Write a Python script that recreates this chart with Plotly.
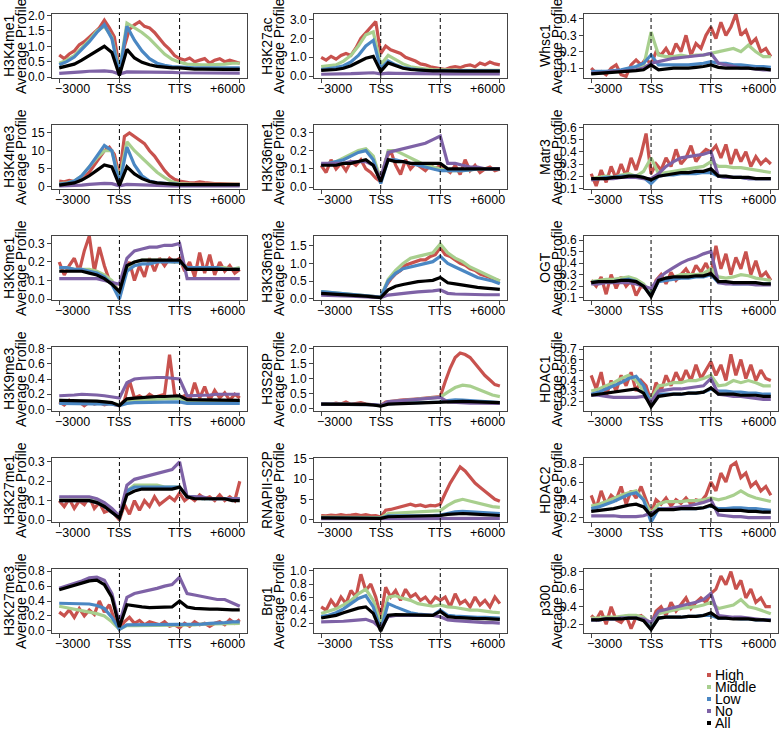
import numpy as np
import plotly.graph_objects as go

# x positions run -3000 .. TSS .. TTS .. +6000 (gene body scaled), ticks at thirds
X_TICKS = [0, 1, 2, 3]
X_LABELS = ["\u22123000", "TSS", "TTS", "+6000"]
X_LABEL_POS = [0.22, 1, 2, 2.8]   # end labels sit slightly inside the end ticks

GROUPS = ["High", "Middle", "Low", "No", "All"]
COLORS = {"High": "#C8524E", "Middle": "#A8CF8E", "Low": "#4A87C3",
          "No": "#7E62A6", "All": "#000000"}

# ---- H3K4me1 ----
k4me1_high = [0.72, 0.6, 0.75, 0.85, 1.05, 1.15, 1.3, 1.45, 1.6, 1.85, 1.6, 1.3,
              0.25, 1.0, 1.55, 1.7, 1.8, 1.65, 1.6, 1.45, 1.25, 1.05, 0.9, 0.7,
              0.6, 0.55, 0.62, 0.5, 0.55, 0.6, 0.45, 0.55, 0.6, 0.5, 0.55, 0.5, 0.45]
k4me1_mid = [0.45, 0.55, 0.7, 0.95, 1.2, 1.5, 1.65, 1.3,
             0.2, 1.75, 1.6, 1.45, 1.25, 1.0, 0.75, 0.58,
             0.48, 0.42, 0.4, 0.4, 0.4, 0.4, 0.42, 0.45, 0.45]
k4me1_low = [0.4, 0.5, 0.65, 0.9, 1.15, 1.45, 1.7, 1.25,
             0.1, 1.65, 1.2, 0.85, 0.6, 0.45, 0.38, 0.34,
             0.32, 0.3, 0.3, 0.3, 0.3, 0.3, 0.3, 0.3, 0.3]
k4me1_no = [0.12, 0.13, 0.15, 0.17, 0.19, 0.2, 0.2, 0.18,
            0.1, 0.17, 0.17, 0.16, 0.16, 0.16, 0.15, 0.15,
            0.14, 0.14, 0.14, 0.14, 0.13, 0.13, 0.13, 0.13, 0.13]
k4me1_all = [0.3, 0.35, 0.42, 0.55, 0.7, 0.85, 1.0, 0.8,
             0.05, 0.9, 0.62, 0.48, 0.4, 0.35, 0.32, 0.3,
             0.3, 0.27, 0.26, 0.26, 0.25, 0.25, 0.25, 0.25, 0.25]

# ---- H3K27ac ----
k27ac_high = [1.0, 0.85, 1.05, 0.9, 1.1, 1.2, 1.1, 1.5, 2.0, 2.3, 2.6, 2.9,
              1.2, 1.6, 1.4, 1.3, 1.2, 1.0, 0.9, 0.8, 0.65, 0.6, 0.5, 0.45,
              0.4, 0.35, 0.45, 0.5, 0.45, 0.55, 0.6, 0.5, 0.7, 0.6, 0.75, 0.65, 0.6]
k27ac_mid = [0.5, 0.55, 0.6, 0.8, 1.1, 1.6, 2.2, 2.35,
             0.6, 1.1, 0.85, 0.65, 0.5, 0.42, 0.38, 0.35,
             0.33, 0.3, 0.3, 0.3, 0.3, 0.3, 0.3, 0.3, 0.3]
k27ac_low = [0.35, 0.38, 0.45, 0.55, 0.75, 1.1, 1.6, 1.9,
             0.4, 0.8, 0.6, 0.45, 0.38, 0.33, 0.3, 0.3,
             0.3, 0.28, 0.28, 0.28, 0.28, 0.28, 0.28, 0.28, 0.28]
k27ac_no = [0.1, 0.1, 0.11, 0.12, 0.13, 0.15, 0.17, 0.18,
            0.12, 0.16, 0.15, 0.14, 0.14, 0.13, 0.13, 0.12,
            0.12, 0.12, 0.12, 0.12, 0.12, 0.12, 0.12, 0.12, 0.12]
k27ac_all = [0.3, 0.32, 0.35, 0.42, 0.55, 0.75, 0.95, 1.05,
             0.25, 0.7, 0.55, 0.42, 0.35, 0.32, 0.3, 0.28,
             0.28, 0.26, 0.26, 0.26, 0.26, 0.26, 0.26, 0.26, 0.26]

# ---- Whsc1 ----
whsc1_high = [0.1, 0.07, 0.08, 0.06, 0.1, 0.12, 0.06, 0.05, 0.12, 0.15, 0.12, 0.16,
              0.12, 0.2, 0.18, 0.22, 0.17, 0.25, 0.2, 0.3, 0.18, 0.25, 0.22, 0.3,
              0.35, 0.28, 0.38, 0.3, 0.35, 0.43, 0.3, 0.33, 0.25, 0.28, 0.2, 0.22, 0.17]
whsc1_mid = [0.07, 0.07, 0.075, 0.08, 0.085, 0.09, 0.1, 0.11,
             0.32, 0.18, 0.17, 0.17, 0.18, 0.17, 0.18, 0.18,
             0.19, 0.2, 0.21, 0.22, 0.2, 0.24, 0.2, 0.17, 0.17]
whsc1_low = [0.08, 0.08, 0.08, 0.085, 0.09, 0.1, 0.11, 0.13,
             0.18, 0.12, 0.12, 0.12, 0.12, 0.12, 0.125, 0.13,
             0.14, 0.13, 0.13, 0.12, 0.12, 0.115, 0.11, 0.11, 0.105]
whsc1_no = [0.07, 0.07, 0.075, 0.08, 0.08, 0.085, 0.09, 0.1,
            0.13, 0.14, 0.15, 0.16, 0.165, 0.17, 0.175, 0.18,
            0.19, 0.13, 0.12, 0.11, 0.1, 0.1, 0.095, 0.09, 0.09]
whsc1_all = [0.065, 0.068, 0.07, 0.072, 0.075, 0.08, 0.085, 0.09,
             0.12, 0.09, 0.095, 0.1, 0.1, 0.1, 0.105, 0.11,
             0.12, 0.105, 0.1, 0.1, 0.1, 0.1, 0.095, 0.095, 0.09]

# ---- H3K4me3 ----
k4me3_high = [1.5, 1.3, 1.7, 1.4, 1.6, 2.5, 4, 6, 8, 10, 11, 9,
              3, 14, 15, 14, 13, 12, 10, 8.5, 6.5, 4.5, 3, 2,
              1.5, 1.2, 1.0, 1.0, 1.3, 1.1, 0.9, 0.8, 0.8, 0.7, 0.7, 0.7, 0.7]
k4me3_mid = [0.8, 1.0, 1.5, 3, 5.5, 8, 10, 10,
             2, 12.5, 10, 8, 6, 4, 2.5, 1.3,
             0.8, 0.6, 0.6, 0.6, 0.6, 0.6, 0.6, 0.6, 0.6]
k4me3_low = [0.7, 0.9, 1.5, 3, 5.5, 8.5, 11.5, 10,
             0.5, 11, 6, 3, 1.5, 1.0, 0.8, 0.6,
             0.6, 0.55, 0.55, 0.55, 0.55, 0.55, 0.55, 0.55, 0.55]
k4me3_no = [0.15, 0.2, 0.3, 0.4, 0.6, 0.8, 0.9, 0.8,
            0.2, 0.6, 0.5, 0.4, 0.3, 0.25, 0.2, 0.2,
            0.2, 0.2, 0.2, 0.2, 0.2, 0.2, 0.2, 0.2, 0.2]
k4me3_all = [0.4, 0.6, 1.0, 1.8, 3, 4.5, 6, 5.5,
             0.3, 5.5, 3.5, 2.2, 1.4, 1.0, 0.8, 0.6,
             0.55, 0.5, 0.5, 0.5, 0.5, 0.5, 0.5, 0.5, 0.5]

# ---- H3K36me1 ----
k36me1_high = [0.12, 0.08, 0.15, 0.1, 0.13, 0.09, 0.14, 0.12, 0.15, 0.1, 0.08, 0.05,
               0.03, 0.15, 0.2, 0.12, 0.07, 0.15, 0.1, 0.13, 0.11, 0.09, 0.12, 0.1,
               0.12, 0.1, 0.08, 0.12, 0.07, 0.15, 0.09, 0.12, 0.08, 0.1, 0.11, 0.09, 0.1]
k36me1_mid = [0.12, 0.13, 0.14, 0.16, 0.18, 0.2, 0.21, 0.17,
              0.04, 0.2, 0.2, 0.18, 0.16, 0.14, 0.12, 0.11,
              0.1, 0.09, 0.09, 0.09, 0.095, 0.1, 0.1, 0.1, 0.1]
k36me1_low = [0.12, 0.13, 0.14, 0.15, 0.17, 0.19, 0.2, 0.15,
              0.02, 0.15, 0.15, 0.14, 0.13, 0.12, 0.11, 0.1,
              0.09, 0.09, 0.09, 0.09, 0.095, 0.1, 0.1, 0.1, 0.1]
k36me1_no = [0.13, 0.13, 0.13, 0.13, 0.14, 0.14, 0.14, 0.12,
             0.05, 0.19, 0.2, 0.21, 0.22, 0.23, 0.24, 0.26,
             0.28, 0.13, 0.13, 0.12, 0.11, 0.11, 0.1, 0.1, 0.1]
k36me1_all = [0.12, 0.12, 0.12, 0.13, 0.13, 0.14, 0.15, 0.12,
              0.03, 0.15, 0.14, 0.14, 0.13, 0.13, 0.13, 0.13,
              0.13, 0.1, 0.1, 0.1, 0.1, 0.1, 0.1, 0.1, 0.1]

# ---- Matr3 ----
matr3_high = [0.22, 0.12, 0.25, 0.15, 0.28, 0.18, 0.3, 0.2, 0.35, 0.25, 0.38, 0.55,
              0.22, 0.3, 0.25, 0.35, 0.28, 0.42, 0.3, 0.35, 0.45, 0.32, 0.38, 0.42,
              0.4, 0.45, 0.35, 0.46, 0.3, 0.42, 0.32, 0.4, 0.28, 0.36, 0.3, 0.34, 0.3]
matr3_mid = [0.18, 0.19, 0.2, 0.19, 0.21, 0.22, 0.2, 0.24,
             0.35, 0.22, 0.23, 0.24, 0.25, 0.26, 0.27, 0.28,
             0.32, 0.28, 0.28, 0.27, 0.27, 0.26, 0.25, 0.24, 0.23]
matr3_low = [0.18, 0.18, 0.19, 0.19, 0.2, 0.2, 0.2, 0.19,
             0.14, 0.2, 0.21, 0.21, 0.22, 0.22, 0.22, 0.23,
             0.23, 0.2, 0.19, 0.19, 0.19, 0.18, 0.18, 0.18, 0.18]
matr3_no = [0.17, 0.18, 0.18, 0.18, 0.19, 0.19, 0.19, 0.18,
            0.18, 0.22, 0.28, 0.32, 0.35, 0.36, 0.37, 0.38,
            0.4, 0.2, 0.19, 0.19, 0.19, 0.18, 0.18, 0.18, 0.18]
matr3_all = [0.18, 0.18, 0.18, 0.19, 0.19, 0.2, 0.2, 0.19,
             0.17, 0.2, 0.21, 0.22, 0.23, 0.23, 0.24, 0.24,
             0.26, 0.2, 0.2, 0.19, 0.19, 0.19, 0.18, 0.18, 0.18]

# ---- H3K9me1 ----
k9me1_high = [0.2, 0.13, 0.18, 0.22, 0.15, 0.26, 0.34, 0.15, 0.28, 0.18, 0.1, 0.08,
              0.03, 0.15, 0.2, 0.1, 0.18, 0.12, 0.22, 0.15, 0.22, 0.18, 0.22, 0.2,
              0.22, 0.15, 0.2, 0.12, 0.25, 0.14, 0.24, 0.13, 0.2, 0.15, 0.18, 0.14, 0.16]
k9me1_mid = [0.17, 0.17, 0.16, 0.16, 0.16, 0.15, 0.13, 0.1,
             0.03, 0.17, 0.2, 0.21, 0.21, 0.21, 0.21, 0.2,
             0.2, 0.17, 0.17, 0.17, 0.17, 0.17, 0.17, 0.16, 0.17]
k9me1_low = [0.17, 0.17, 0.16, 0.16, 0.15, 0.14, 0.12, 0.08,
             0.0, 0.15, 0.18, 0.19, 0.19, 0.2, 0.2, 0.2,
             0.2, 0.17, 0.17, 0.17, 0.17, 0.17, 0.16, 0.16, 0.16]
k9me1_no = [0.11, 0.11, 0.11, 0.11, 0.11, 0.11, 0.1, 0.09,
            0.08, 0.22, 0.26, 0.27, 0.28, 0.28, 0.29, 0.29,
            0.3, 0.11, 0.11, 0.11, 0.11, 0.11, 0.11, 0.11, 0.11]
k9me1_all = [0.15, 0.15, 0.15, 0.15, 0.14, 0.13, 0.11, 0.08,
             0.04, 0.18, 0.2, 0.21, 0.21, 0.21, 0.21, 0.21,
             0.21, 0.16, 0.16, 0.16, 0.16, 0.16, 0.16, 0.16, 0.16]

# ---- H3K36me3 ----
k36me3_high = [0.18, 0.17, 0.16, 0.15, 0.14, 0.12, 0.11, 0.1, 0.09, 0.08, 0.06, 0.05,
               0.04, 0.35, 0.55, 0.7, 0.8, 0.95, 1.0, 1.05, 1.1, 1.1, 1.2, 1.25,
               1.45, 1.25, 1.2, 1.1, 1.0, 0.95, 0.85, 0.8, 0.7, 0.65, 0.6, 0.55, 0.5]
k36me3_mid = [0.2, 0.18, 0.17, 0.15, 0.13, 0.11, 0.09, 0.07,
              0.04, 0.55, 0.8, 1.0, 1.15, 1.2, 1.25, 1.3,
              1.55, 1.3, 1.15, 1.05, 0.9, 0.8, 0.7, 0.6, 0.5]
k36me3_low = [0.2, 0.18, 0.17, 0.15, 0.13, 0.11, 0.09, 0.07,
              0.04, 0.5, 0.72, 0.85, 0.9, 0.95, 1.0, 1.05,
              1.2, 1.0, 0.9, 0.8, 0.7, 0.6, 0.55, 0.5, 0.42]
k36me3_no = [0.1, 0.1, 0.09, 0.08, 0.07, 0.06, 0.05, 0.04,
             0.03, 0.1, 0.13, 0.15, 0.17, 0.19, 0.2, 0.22,
             0.25, 0.15, 0.13, 0.12, 0.12, 0.11, 0.11, 0.11, 0.11]
k36me3_all = [0.15, 0.14, 0.13, 0.12, 0.1, 0.09, 0.07, 0.05,
              0.03, 0.25, 0.35, 0.4, 0.45, 0.48, 0.5, 0.52,
              0.6, 0.45, 0.42, 0.38, 0.35, 0.32, 0.3, 0.28, 0.26]

# ---- OGT ----
ogt_high = [0.25, 0.2, 0.28, 0.13, 0.3, 0.18, 0.28, 0.2, 0.25, 0.12, 0.2, 0.18,
            0.12, 0.25, 0.3, 0.22, 0.32, 0.25, 0.3, 0.35, 0.28, 0.38, 0.32, 0.4,
            0.3, 0.55, 0.35, 0.48, 0.3, 0.45, 0.35, 0.5, 0.3, 0.42, 0.28, 0.32, 0.25]
ogt_mid = [0.24, 0.25, 0.26, 0.26, 0.27, 0.28, 0.26, 0.22,
           0.14, 0.25, 0.27, 0.28, 0.3, 0.3, 0.3, 0.31,
           0.35, 0.28, 0.27, 0.28, 0.3, 0.29, 0.27, 0.26, 0.25]
ogt_low = [0.23, 0.24, 0.24, 0.24, 0.25, 0.26, 0.24, 0.2,
           0.12, 0.24, 0.25, 0.26, 0.27, 0.27, 0.28, 0.28,
           0.3, 0.23, 0.23, 0.22, 0.22, 0.22, 0.22, 0.22, 0.22]
ogt_no = [0.22, 0.22, 0.23, 0.23, 0.23, 0.23, 0.22, 0.2,
          0.18, 0.27, 0.32, 0.36, 0.4, 0.43, 0.45, 0.48,
          0.5, 0.23, 0.22, 0.22, 0.22, 0.22, 0.21, 0.21, 0.21]
ogt_all = [0.23, 0.24, 0.24, 0.24, 0.25, 0.25, 0.24, 0.2,
           0.11, 0.25, 0.27, 0.28, 0.28, 0.28, 0.29, 0.29,
           0.31, 0.24, 0.24, 0.23, 0.23, 0.23, 0.23, 0.22, 0.22]

# ---- H3K9me3 ----
k9me3_high = [0.1, 0.06, 0.12, 0.08, 0.1, 0.05, 0.1, 0.07, 0.09, 0.06, 0.08, 0.07,
              0.05, 0.12, 0.38, 0.15, 0.18, 0.14, 0.2, 0.16, 0.18, 0.2, 0.72, 0.2,
              0.15, 0.18, 0.12, 0.35, 0.15, 0.3, 0.12, 0.25, 0.15, 0.22, 0.12, 0.2, 0.15]
k9me3_mid = [0.12, 0.11, 0.11, 0.1, 0.1, 0.1, 0.1, 0.08,
             0.06, 0.1, 0.12, 0.13, 0.13, 0.14, 0.14, 0.14,
             0.15, 0.1, 0.1, 0.1, 0.1, 0.1, 0.1, 0.1, 0.11]
k9me3_low = [0.08, 0.08, 0.08, 0.08, 0.08, 0.08, 0.08, 0.07,
             0.05, 0.08, 0.09, 0.09, 0.09, 0.09, 0.1, 0.1,
             0.1, 0.08, 0.08, 0.08, 0.08, 0.08, 0.08, 0.08, 0.08]
k9me3_no = [0.18, 0.18, 0.19, 0.2, 0.2, 0.19, 0.18, 0.16,
            0.15, 0.35, 0.4, 0.41, 0.42, 0.42, 0.42, 0.41,
            0.4, 0.18, 0.18, 0.19, 0.19, 0.2, 0.2, 0.2, 0.2]
k9me3_all = [0.12, 0.12, 0.12, 0.11, 0.11, 0.11, 0.1, 0.09,
             0.05, 0.14, 0.15, 0.16, 0.16, 0.17, 0.17, 0.17,
             0.18, 0.13, 0.13, 0.13, 0.12, 0.12, 0.12, 0.12, 0.12]

# ---- H3S28P ----
s28p_high = [0.15, 0.16, 0.14, 0.18, 0.15, 0.22, 0.14, 0.16, 0.2, 0.15, 0.14, 0.13,
             0.1, 0.22, 0.25, 0.26, 0.28, 0.3, 0.3, 0.32, 0.33, 0.35, 0.37, 0.38,
             0.4, 0.9, 1.35, 1.7, 1.85, 1.8, 1.7, 1.5, 1.3, 1.1, 0.95, 0.8, 0.75]
s28p_mid = [0.15, 0.15, 0.15, 0.15, 0.15, 0.15, 0.14, 0.13,
            0.1, 0.22, 0.24, 0.26, 0.28, 0.3, 0.32, 0.34,
            0.38, 0.55, 0.7, 0.78, 0.75, 0.65, 0.55, 0.45, 0.4]
s28p_low = [0.15, 0.15, 0.15, 0.15, 0.15, 0.15, 0.14, 0.13,
            0.1, 0.16, 0.17, 0.18, 0.19, 0.2, 0.2, 0.21,
            0.22, 0.27, 0.29, 0.28, 0.26, 0.24, 0.22, 0.21, 0.2]
s28p_no = [0.15, 0.15, 0.15, 0.15, 0.15, 0.15, 0.14, 0.13,
           0.1, 0.23, 0.25, 0.27, 0.28, 0.3, 0.32, 0.34,
           0.37, 0.22, 0.2, 0.19, 0.18, 0.18, 0.17, 0.17, 0.17]
s28p_all = [0.15, 0.15, 0.15, 0.15, 0.15, 0.15, 0.14, 0.12,
            0.08, 0.15, 0.16, 0.17, 0.18, 0.19, 0.2, 0.2,
            0.21, 0.24, 0.25, 0.24, 0.23, 0.22, 0.21, 0.2, 0.2]

# ---- HDAC1 ----
hdac1_high = [0.45, 0.32, 0.48, 0.25, 0.4, 0.3, 0.45, 0.35, 0.48, 0.3, 0.4, 0.35,
              0.2, 0.38, 0.3, 0.45, 0.35, 0.48, 0.38, 0.5, 0.4, 0.55, 0.42, 0.5,
              0.58, 0.45, 0.55, 0.4, 0.65, 0.45, 0.6, 0.42, 0.55, 0.4, 0.5, 0.42, 0.4]
hdac1_mid = [0.3, 0.32, 0.35, 0.38, 0.42, 0.45, 0.4, 0.3,
             0.22, 0.35, 0.36, 0.38, 0.38, 0.4, 0.4, 0.42,
             0.45, 0.35, 0.36, 0.4, 0.38, 0.4, 0.38, 0.35, 0.35]
hdac1_low = [0.27, 0.29, 0.32, 0.35, 0.38, 0.42, 0.44, 0.35,
             0.18, 0.27, 0.27, 0.27, 0.27, 0.28, 0.28, 0.29,
             0.32, 0.3, 0.3, 0.29, 0.29, 0.28, 0.28, 0.27, 0.27]
hdac1_no = [0.26, 0.26, 0.25, 0.24, 0.24, 0.24, 0.24, 0.25,
            0.2, 0.3, 0.31, 0.32, 0.32, 0.33, 0.34, 0.35,
            0.42, 0.27, 0.26, 0.25, 0.25, 0.24, 0.23, 0.22, 0.22]
hdac1_all = [0.26, 0.27, 0.28, 0.29, 0.3, 0.31, 0.32, 0.28,
             0.15, 0.25, 0.26, 0.27, 0.27, 0.28, 0.28, 0.29,
             0.33, 0.27, 0.27, 0.27, 0.26, 0.26, 0.26, 0.25, 0.25]

# ---- H3K27me1 ----
k27me1_high = [0.1, 0.07, 0.11, 0.06, 0.1, 0.08, 0.12, 0.06, 0.09, 0.04, 0.05, 0.03,
               0.0, 0.08, 0.03, 0.1, 0.05, 0.1, 0.07, 0.12, 0.08, 0.1, 0.12, 0.1,
               0.14, 0.1, 0.12, 0.1, 0.13, 0.11, 0.12, 0.1, 0.13, 0.1, 0.12, 0.1, 0.2]
k27me1_mid = [0.11, 0.11, 0.11, 0.11, 0.11, 0.1, 0.08, 0.05,
              0.01, 0.15, 0.18, 0.18, 0.18, 0.18, 0.17, 0.17,
              0.17, 0.12, 0.12, 0.11, 0.11, 0.11, 0.11, 0.11, 0.11]
k27me1_low = [0.1, 0.1, 0.1, 0.1, 0.1, 0.09, 0.07, 0.04,
              0.01, 0.15, 0.17, 0.17, 0.17, 0.17, 0.17, 0.17,
              0.17, 0.12, 0.12, 0.11, 0.11, 0.11, 0.11, 0.11, 0.11]
k27me1_no = [0.12, 0.12, 0.12, 0.12, 0.12, 0.11, 0.09, 0.06,
             0.02, 0.18, 0.21, 0.22, 0.23, 0.24, 0.25, 0.26,
             0.3, 0.12, 0.12, 0.12, 0.11, 0.11, 0.11, 0.11, 0.11]
k27me1_all = [0.1, 0.1, 0.1, 0.1, 0.1, 0.09, 0.07, 0.04,
              0.01, 0.13, 0.15, 0.16, 0.16, 0.16, 0.16, 0.16,
              0.17, 0.12, 0.11, 0.11, 0.11, 0.11, 0.11, 0.1, 0.1]

# ---- RNAPII-S2P ----
pol2_high = [1.0, 0.9, 1.1, 1.0, 1.2, 1.0, 1.1, 1.3, 1.0, 1.2, 0.9, 1.0,
             0.6, 2.3, 2.5, 2.8, 3.2, 3.5, 3.8, 3.4, 3.6, 3.2, 3.5, 3.4,
             3.8, 6.5, 9, 11, 13, 12, 10.5, 9, 8, 7, 6, 5, 4.5]
pol2_mid = [0.6, 0.6, 0.6, 0.6, 0.6, 0.6, 0.6, 0.6,
            0.5, 1.5, 1.6, 1.7, 1.8, 1.9, 2.0, 2.0,
            2.2, 3.5, 4.5, 5, 4.5, 4, 3.5, 3.2, 3.0]
pol2_low = [0.4, 0.4, 0.4, 0.4, 0.4, 0.4, 0.4, 0.4,
            0.3, 0.9, 0.9, 0.9, 1.0, 1.0, 1.0, 1.0,
            1.1, 1.6, 1.9, 2.0, 1.9, 1.8, 1.7, 1.6, 1.5]
pol2_no = [0.2, 0.2, 0.2, 0.2, 0.2, 0.2, 0.2, 0.2,
           0.2, 0.3, 0.3, 0.3, 0.3, 0.3, 0.3, 0.3,
           0.3, 0.3, 0.3, 0.3, 0.3, 0.3, 0.3, 0.3, 0.3]
pol2_all = [0.4, 0.4, 0.4, 0.4, 0.4, 0.4, 0.4, 0.4,
            0.3, 0.7, 0.75, 0.8, 0.85, 0.9, 0.9, 0.95,
            1.0, 1.3, 1.4, 1.5, 1.4, 1.3, 1.2, 1.1, 1.0]

# ---- HDAC2 ----
hdac2_high = [0.45, 0.3, 0.5, 0.35, 0.45, 0.4, 0.55, 0.35, 0.5, 0.42, 0.55, 0.4,
              0.25, 0.4, 0.35, 0.42, 0.33, 0.4, 0.36, 0.42, 0.35, 0.4, 0.38, 0.45,
              0.6, 0.5, 0.7, 0.6, 0.78, 0.82, 0.65, 0.7, 0.55, 0.6, 0.5, 0.55, 0.45]
hdac2_mid = [0.33, 0.35, 0.38, 0.42, 0.45, 0.48, 0.5, 0.4,
             0.25, 0.35, 0.38, 0.38, 0.38, 0.39, 0.39, 0.4,
             0.42, 0.4, 0.42, 0.45, 0.5, 0.45, 0.42, 0.4, 0.38]
hdac2_low = [0.3, 0.32, 0.35, 0.38, 0.42, 0.46, 0.48, 0.4,
             0.15, 0.3, 0.3, 0.3, 0.3, 0.3, 0.3, 0.31,
             0.33, 0.3, 0.3, 0.31, 0.31, 0.3, 0.3, 0.29, 0.28]
hdac2_no = [0.22, 0.22, 0.22, 0.22, 0.21, 0.21, 0.21, 0.22,
            0.25, 0.29, 0.3, 0.31, 0.32, 0.33, 0.35, 0.37,
            0.4, 0.23, 0.22, 0.21, 0.21, 0.2, 0.2, 0.2, 0.2]
hdac2_all = [0.27, 0.28, 0.29, 0.3, 0.32, 0.34, 0.35, 0.32,
             0.22, 0.29, 0.29, 0.29, 0.3, 0.3, 0.3, 0.31,
             0.34, 0.28, 0.28, 0.28, 0.28, 0.27, 0.27, 0.26, 0.26]

# ---- H3K27me3 ----
k27me3_high = [0.25, 0.2, 0.28, 0.18, 0.3, 0.2, 0.28, 0.22, 0.4, 0.25, 0.35, 0.15,
               0.02, 0.12, 0.18, 0.1, 0.14, 0.08, 0.12, 0.1, 0.08, 0.12, 0.06, 0.08,
               0.04, 0.1, 0.06, 0.12, 0.08, 0.1, 0.06, 0.1, 0.12, 0.08, 0.15, 0.1, 0.15]
k27me3_mid = [0.33, 0.31, 0.3, 0.28, 0.26, 0.23, 0.2, 0.12,
              0.02, 0.07, 0.07, 0.07, 0.07, 0.07, 0.07, 0.07,
              0.07, 0.08, 0.08, 0.09, 0.09, 0.1, 0.1, 0.1, 0.1]
k27me3_low = [0.37, 0.37, 0.37, 0.37, 0.36, 0.34, 0.3, 0.18,
              0.02, 0.08, 0.08, 0.08, 0.08, 0.08, 0.08, 0.08,
              0.08, 0.08, 0.09, 0.09, 0.1, 0.1, 0.11, 0.12, 0.12]
k27me3_no = [0.57, 0.6, 0.63, 0.67, 0.71, 0.72, 0.68, 0.5,
             0.1, 0.45, 0.5, 0.52, 0.55, 0.57, 0.6, 0.62,
             0.72, 0.5, 0.48, 0.46, 0.44, 0.42, 0.42, 0.38, 0.33]
k27me3_all = [0.55, 0.58, 0.61, 0.64, 0.67, 0.68, 0.62, 0.45,
              0.05, 0.35, 0.33, 0.32, 0.31, 0.31, 0.31, 0.32,
              0.4, 0.32, 0.3, 0.29, 0.29, 0.29, 0.28, 0.28, 0.28]

# ---- Brg1 ----
brg1_high = [0.45, 0.4, 0.55, 0.45, 0.6, 0.5, 0.7, 0.6, 0.95, 0.7, 0.8, 0.6,
             0.3, 0.75, 0.6, 0.7, 0.55, 0.72, 0.6, 0.65, 0.55, 0.6, 0.5, 0.6,
             0.55, 0.6, 0.45, 0.65, 0.5, 0.55, 0.45, 0.6, 0.48, 0.55, 0.45, 0.6, 0.5]
brg1_mid = [0.35, 0.38, 0.42, 0.48, 0.55, 0.65, 0.72, 0.55,
            0.2, 0.6, 0.62, 0.58, 0.55, 0.5, 0.48, 0.46,
            0.48, 0.45, 0.44, 0.42, 0.4, 0.4, 0.38, 0.37, 0.36]
brg1_low = [0.3, 0.32, 0.36, 0.42, 0.5, 0.58, 0.62, 0.45,
            0.1, 0.5, 0.45, 0.4, 0.36, 0.34, 0.33, 0.32,
            0.4, 0.32, 0.31, 0.3, 0.3, 0.29, 0.29, 0.28, 0.28]
brg1_no = [0.22, 0.22, 0.22, 0.23, 0.24, 0.25, 0.26, 0.22,
           0.12, 0.3, 0.32, 0.32, 0.32, 0.32, 0.32, 0.32,
           0.3, 0.25, 0.24, 0.23, 0.22, 0.22, 0.21, 0.21, 0.2]
brg1_all = [0.28, 0.3, 0.32, 0.36, 0.4, 0.43, 0.45, 0.35,
            0.08, 0.32, 0.33, 0.33, 0.32, 0.32, 0.32, 0.32,
            0.38, 0.3, 0.29, 0.28, 0.28, 0.27, 0.27, 0.26, 0.26]

# ---- p300 ----
p300_high = [0.3, 0.25, 0.35, 0.2, 0.4, 0.25, 0.22, 0.3, 0.15, 0.28, 0.3, 0.25,
             0.2, 0.35, 0.4, 0.3, 0.45, 0.35, 0.42, 0.5, 0.38, 0.45, 0.5, 0.45,
             0.55, 0.6, 0.75, 0.65, 0.8, 0.6, 0.7, 0.5, 0.6, 0.45, 0.5, 0.4, 0.4]
p300_mid = [0.27, 0.27, 0.28, 0.28, 0.29, 0.3, 0.3, 0.28,
            0.2, 0.32, 0.34, 0.36, 0.38, 0.39, 0.4, 0.42,
            0.45, 0.38, 0.4, 0.42, 0.48, 0.4, 0.38, 0.35, 0.32]
p300_low = [0.25, 0.25, 0.26, 0.26, 0.27, 0.27, 0.27, 0.25,
            0.15, 0.27, 0.28, 0.28, 0.28, 0.29, 0.29, 0.3,
            0.3, 0.27, 0.27, 0.27, 0.26, 0.26, 0.25, 0.25, 0.25]
p300_no = [0.25, 0.25, 0.26, 0.26, 0.27, 0.27, 0.27, 0.26,
           0.22, 0.35, 0.37, 0.39, 0.41, 0.43, 0.45, 0.48,
           0.55, 0.3, 0.29, 0.28, 0.28, 0.27, 0.26, 0.25, 0.25]
p300_all = [0.25, 0.25, 0.26, 0.26, 0.26, 0.27, 0.27, 0.24,
            0.14, 0.27, 0.28, 0.28, 0.28, 0.29, 0.29, 0.3,
            0.33, 0.27, 0.27, 0.26, 0.26, 0.26, 0.25, 0.25, 0.24]

# panel name, series (High, Middle, Low, No, All), y range, y ticks, tick format
PANELS = [
    ("H3K4me1", [k4me1_high, k4me1_mid, k4me1_low, k4me1_no, k4me1_all], [-0.03, 2.05], [0, 0.5, 1, 1.5, 2], ".1f"),
    ("H3K27ac", [k27ac_high, k27ac_mid, k27ac_low, k27ac_no, k27ac_all], [-0.1, 3.3], [0, 1, 2, 3], ".1f"),
    ("Whsc1", [whsc1_high, whsc1_mid, whsc1_low, whsc1_no, whsc1_all], [0.04, 0.43], [0.1, 0.2, 0.3, 0.4], ".1f"),
    ("H3K4me3", [k4me3_high, k4me3_mid, k4me3_low, k4me3_no, k4me3_all], [-0.7, 17.2], [0, 5, 10, 15], "d"),
    ("H3K36me1", [k36me1_high, k36me1_mid, k36me1_low, k36me1_no, k36me1_all], [-0.01, 0.34], [0, 0.1, 0.2, 0.3], ".1f"),
    ("Matr3", [matr3_high, matr3_mid, matr3_low, matr3_no, matr3_all], [0.095, 0.62], [0.1, 0.2, 0.3, 0.4, 0.5, 0.6], ".1f"),
    ("H3K9me1", [k9me1_high, k9me1_mid, k9me1_low, k9me1_no, k9me1_all], [-0.005, 0.34], [0, 0.1, 0.2, 0.3], ".1f"),
    ("H3K36me3", [k36me3_high, k36me3_mid, k36me3_low, k36me3_no, k36me3_all], [-0.04, 1.78], [0, 0.5, 1, 1.5], ".1f"),
    ("OGT", [ogt_high, ogt_mid, ogt_low, ogt_no, ogt_all], [0.08, 0.635], [0.1, 0.2, 0.3, 0.4, 0.5, 0.6], ".1f"),
    ("H3K9me3", [k9me3_high, k9me3_mid, k9me3_low, k9me3_no, k9me3_all], [-0.02, 0.82], [0, 0.2, 0.4, 0.6, 0.8], ".1f"),
    ("H3S28P", [s28p_high, s28p_mid, s28p_low, s28p_no, s28p_all], [-0.08, 2.05], [0, 0.5, 1, 1.5, 2], ".1f"),
    ("HDAC1", [hdac1_high, hdac1_mid, hdac1_low, hdac1_no, hdac1_all], [0.11, 0.72], [0.2, 0.3, 0.4, 0.5, 0.6, 0.7], ".1f"),
    ("H3K27me1", [k27me1_high, k27me1_mid, k27me1_low, k27me1_no, k27me1_all], [-0.01, 0.32], [0, 0.1, 0.2, 0.3], ".1f"),
    ("RNAPII-S2P", [pol2_high, pol2_mid, pol2_low, pol2_no, pol2_all], [-0.6, 15.2], [0, 5, 10, 15], "d"),
    ("HDAC2", [hdac2_high, hdac2_mid, hdac2_low, hdac2_no, hdac2_all], [0.15, 0.87], [0.2, 0.4, 0.6, 0.8], ".1f"),
    ("H3K27me3", [k27me3_high, k27me3_mid, k27me3_low, k27me3_no, k27me3_all], [-0.03, 0.83], [0, 0.2, 0.4, 0.6, 0.8], ".1f"),
    ("Brg1", [brg1_high, brg1_mid, brg1_low, brg1_no, brg1_all], [0.05, 1.03], [0.2, 0.4, 0.6, 0.8, 1.0], ".1f"),
    ("p300", [p300_high, p300_mid, p300_low, p300_no, p300_all], [0.1, 0.83], [0.2, 0.4, 0.6, 0.8], ".1f"),
]

W, H = 782, 733
FONT = "Liberation Sans, Arial, Helvetica, sans-serif"
FRAME = "#444444"

# panel frames in pixels
COL_LEFT = [52, 314, 584]
COL_RIGHT = [247, 507, 778]
NAME_X = [9, 267, 545]
AVG_X = [21, 279, 557]
ROW_TOP = [14, 125, 236, 347, 458, 569]
PANEL_H = 64

LEGEND_Y = [675, 687, 699, 711, 723]
LEGEND_X = 709

fig = go.Figure()

for k, (name, series, yrange, yticks, fmt) in enumerate(PANELS):
    ax = "" if k == 0 else str(k + 1)
    row, col = divmod(k, 3)

    for group, ys in zip(GROUPS, series):
        xs = np.linspace(0, 3, len(ys))
        fig.add_trace(go.Scatter(x=xs, y=ys, mode="lines",
                                 line=dict(color=COLORS[group], width=3.2),
                                 xaxis="x" + ax, yaxis="y" + ax,
                                 showlegend=False, hoverinfo="skip"))

    x0, x1 = COL_LEFT[col] / W, COL_RIGHT[col] / W
    y1 = 1 - ROW_TOP[row] / H
    y0 = 1 - (ROW_TOP[row] + PANEL_H) / H

    axis_style = dict(showline=True, mirror=True, linecolor=FRAME, linewidth=1,
                      showgrid=False, zeroline=False, ticks="outside", ticklen=4,
                      tickcolor=FRAME, tickfont=dict(family=FONT, size=12, color="black"),
                      automargin=False)
    fig.update_layout({
        "xaxis" + ax: dict(domain=[x0, x1], anchor="y" + ax, range=[-0.12, 3.12],
                           tickvals=X_TICKS, showticklabels=False, **axis_style),
        "yaxis" + ax: dict(domain=[y0, y1], anchor="x" + ax, range=yrange,
                           tickvals=yticks, tickformat=fmt, **axis_style),
    })

    for xv in (1, 2):
        fig.add_shape(type="line", xref="x" + ax, yref="y" + ax + " domain",
                      x0=xv, x1=xv, y0=0, y1=1,
                      line=dict(color="black", width=1, dash="4px,3px"))

    # x tick labels (end labels pulled inwards like the original)
    for pos, lab in zip(X_LABEL_POS, X_LABELS):
        fig.add_annotation(text=lab, xref="x" + ax, yref="y" + ax + " domain",
                           x=pos, y=0, xanchor="center", yanchor="middle", yshift=-11,
                           showarrow=False, font=dict(family=FONT, size=12.5, color="black"))

    yc = (y0 + y1) / 2
    fig.add_annotation(text=name, textangle=-90, xref="paper", yref="paper",
                       x=NAME_X[col] / W, y=yc, xanchor="center", yanchor="middle",
                       showarrow=False, font=dict(family=FONT, size=14, color="black"))
    fig.add_annotation(text="Average Profile", textangle=-90, xref="paper", yref="paper",
                       x=AVG_X[col] / W, y=yc, xanchor="center", yanchor="middle",
                       showarrow=False, font=dict(family=FONT, size=14, color="black"))

# legend: small squares with labels, bottom right
for group, ly in zip(GROUPS, LEGEND_Y):
    fig.add_shape(type="rect", xref="paper", yref="paper",
                  x0=(LEGEND_X - 2) / W, x1=(LEGEND_X + 2) / W,
                  y0=1 - (ly + 2) / H, y1=1 - (ly - 2) / H,
                  fillcolor=COLORS[group], line=dict(width=0))
    fig.add_annotation(text=group, xref="paper", yref="paper",
                       x=(LEGEND_X + 4) / W, y=1 - ly / H, xanchor="left", yanchor="middle",
                       showarrow=False, font=dict(family=FONT, size=14, color="black"))

fig.update_layout(width=W, height=H, margin=dict(l=0, r=0, t=0, b=0),
                  plot_bgcolor="white", paper_bgcolor="white",
                  font=dict(family=FONT))

# the page's default body margin would push the 782x733 figure past the window
fig.write_html("out.html", config={"displayModeBar": False},
               post_script="document.body.style.margin='0';document.body.style.overflow='hidden';")
